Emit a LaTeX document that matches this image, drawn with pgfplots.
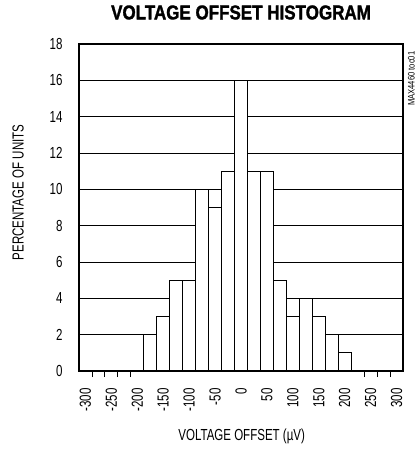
\documentclass[border=0pt]{standalone}
\usepackage{pgfplots}
\pgfplotsset{compat=1.18}
\usepackage{fontspec}
\setmainfont[FakeStretch=0.72]{Liberation Sans}
\newfontfamily\titlefont[FakeStretch=0.85, FakeBold=1.5]{Liberation Sans}
\newfontfamily\notefont[FakeStretch=0.8]{Liberation Sans}

% Percentage of units per 25 uV bin (bin centres)
\pgfplotstableread{
x     pct
-175  2
-150  3
-125  5
-100  5
-75   10
-50   9
-25   11
0     16
25    11
50    11
75    5
100   3
125   4
150   3
175   2
200   1
}\histdata

\begin{document}
\begin{tikzpicture}
\useasboundingbox (-79pt,-78pt) rectangle (339pt,371pt);
\begin{axis}[
  at={(0,0)}, anchor=south west,
  scale only axis, width=324pt, height=327pt,
  xmin=-312.5, xmax=312.5, ymin=0, ymax=18,
  clip=false,
  xtick={-300,-250,...,300}, ytick={0,2,...,18},
  major tick length=0pt,
  xtick pos=bottom, ytick pos=left,
  /pgf/number format/assume math mode=true,
  ymajorgrids, grid style={black, line width=0.6pt},
  axis line style={line width=2.6pt},
  extra x ticks={-287.5,-262.5,-237.5,-212.5,237.5,262.5,287.5},
  extra x tick labels={},
  extra x tick style={major tick length=6pt, tick align=outside,
    tick style={black, line width=0.9pt}, grid=none},
  tick label style={font=\fontsize{16}{18}\selectfont},
  xticklabel style={rotate=90, anchor=east},
  xticklabel shift=14pt,
  yticklabel shift=13pt,
  title={VOLTAGE OFFSET HISTOGRAM},
  title style={at={(axis description cs:0.5,1.078)}, anchor=center,
    font=\titlefont\bfseries\fontsize{20}{22}\selectfont},
  xlabel={VOLTAGE OFFSET (µV)},
  xlabel style={at={(axis description cs:0.502,-0.199)}, anchor=center,
    font=\fontsize{16}{18}\selectfont},
  ylabel={PERCENTAGE OF UNITS},
  ylabel style={at={(axis description cs:-0.188,0.546)}, anchor=center,
    font=\fontsize{16}{18}\selectfont},
]
\addplot[ybar, bar width=25, bar shift=0pt, fill=white, draw=black,
  line width=1.1pt] table[x=x, y=pct] {\histdata};
\draw[line width=2.6pt] (rel axis cs:0,0) rectangle (rel axis cs:1,1);
\node[rotate=90, inner sep=0pt, font=\notefont\fontsize{9.5}{10}\selectfont]
  at (rel axis cs:1.026,0.894) {MAX4460 toc01};
\end{axis}
\end{tikzpicture}
\end{document}
